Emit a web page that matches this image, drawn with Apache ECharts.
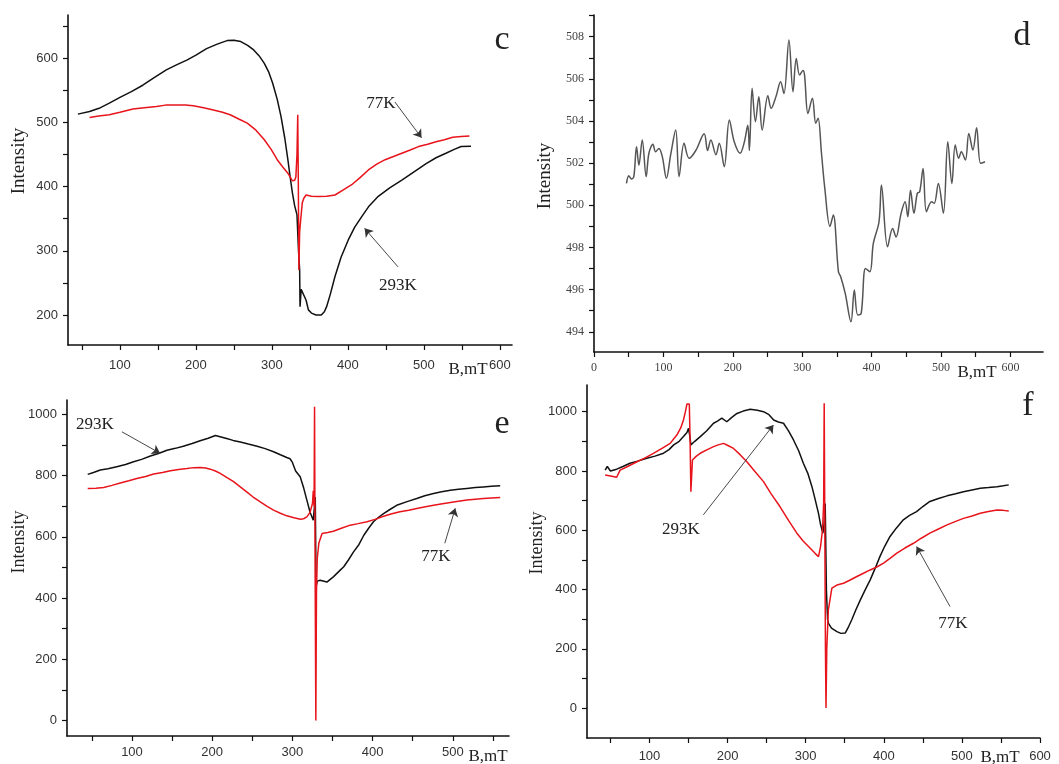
<!DOCTYPE html>
<html>
<head>
<meta charset="utf-8">
<script src="https://cdn.jsdelivr.net/npm/echarts@6/dist/echarts.min.js"></script>
<style>
html, body { margin: 0; padding: 0; background: #fff; }
#chart { width: 1059px; height: 764px; }
</style>
</head>
<body>
<div id="chart"></div>
<script>
let chartDom = document.getElementById('chart');
let myChart = echarts.init(chartDom);

// panel c
let c293K = [[44.6,513],[60,517],[72.5,522],[86,530],[100,539],[115,548],[130,558],[145,570],[161,582],[175,590],[188,597],[200,605],[214,615],[228,622],[241,627.5],[250,628],[259,626],[268,620],[276,613],[283,604],[290,592],[296,578],[301,561],[307,536],[312,509],[317,475],[321,442],[324,415],[327,390],[330,370],[333,356],[335,300],[336.5,270],[337,213],[338.5,240],[341,239],[345,223],[348,208],[352,203],[358,200],[365,200],[369,205],[372,213],[377,233],[383,260],[391,290],[400.5,317],[409,337],[418,353],[428,370],[440,385],[455,398],[471,410],[487,423],[503,436],[516,445],[529,452],[540,458],[549,462.6],[562,463]];
let c77K = [[60,507.6],[72,510],[86,512],[100,516],[117,521],[132,523],[148,525],[160,527],[174.5,527],[186,527],[196.6,526],[210,523],[223,519.5],[235,516],[245,512],[257,505],[267.5,499],[279,488],[290,473],[299,458],[307,442],[314,431],[321,421],[327,409],[330,410],[331.5,415],[333,450],[334,512],[334.8,400],[335.5,270],[336.5,330],[338,350],[340,375],[342,382],[345,387],[352,385],[361,384.5],[372,385],[383,387],[394,395],[405,403],[416,414],[427,426],[438,435],[449,442],[460,447],[471,452],[482,457],[493,462.4],[505,466],[516,470],[527,473],[538,477],[549,478],[560,479]];

// panel d
let dSignal = [[46.8,501.04],[50.2,501.4],[54,501.25],[57.4,501.36],[61.3,502.78],[64.7,501.9],[69.5,503.1],[75.2,501.36],[79.1,502.47],[84.9,502.9],[88.7,502.54],[93.6,502.7],[98.5,502.3],[104.3,501.28],[110.5,502.4],[117.7,503.57],[122.6,501.36],[129.8,502.94],[137,502.23],[146.7,502.6],[158.8,503.4],[163.6,502.6],[168.4,503.1],[175.7,502.4],[180.5,502.94],[187.7,501.83],[195,504.05],[202.2,503.0],[210.5,502.47],[216.6,503.0],[221.6,503.8],[223.9,502.6],[227.8,505.55],[232.6,503.97],[237.5,505.15],[242.3,503.57],[250.5,505.2],[255.3,504.6],[262.6,505.2],[268.8,505.86],[273.7,505.3],[280.9,507.84],[286.7,505.39],[291.5,506.97],[296.3,506.18],[301.2,506.4],[303.4,506.18],[308.3,504.36],[314.7,505.08],[319.5,503.89],[322.9,504.13],[327.8,502.47],[332.6,500.8],[340,499.0],[344.8,499.54],[352.2,496.85],[355.6,496.6],[362,495.82],[370.3,494.47],[375.1,495.98],[380,494.8],[385,494.87],[391.2,497.0],[397.6,496.85],[402.5,498.19],[410.7,499.22],[414.2,500.96],[423,498.03],[430.3,498.9],[435.2,498.5],[442.5,499.62],[448.3,500.17],[452.2,499.46],[456.1,500.72],[461,499.62],[465.9,500.57],[469.3,500.64],[474.2,501.75],[479,499.7],[486.4,500.17],[490.3,500.09],[496.2,501.04],[503.5,499.62],[509.8,503.02],[515.7,501.04],[520.5,502.86],[525.5,502.23],[529.3,502.54],[535.2,502.15],[540.1,503.41],[546,502.62],[551.3,503.68],[557.1,501.99],[563.5,502.07]];

// panel e
let e293K = [[44.8,804],[52,810],[60.5,818],[70,822],[81,829],[92,836],[102,845],[112,853],[123,864],[133,872],[143.6,883],[154,889],[164,896],[175,905],[185,914],[195,922],[204,931],[211,926],[218,921],[226,915],[235,910],[245,903],[256,896],[266,888],[276.5,878],[285,868],[293,859],[297,855],[300,843],[304,815],[309.7,796],[314,760],[318,720],[322,680],[326,654],[327.5,655],[328.5,730],[329.5,437],[331,455],[334.6,458],[343,452],[351,469],[359.6,491],[364,502],[370,525],[376,550],[383,575],[389,605],[395,628],[401,649],[407,663],[413.6,676],[422,690],[430,703],[443,715],[455,725],[465,734],[476,741.5],[486,747],[497,752],[507,755],[517.5,758],[528,761],[538,763],[548,765],[559,767]];
let e77K = [[44.8,758],[55,759],[64.7,761],[75,768],[85.5,776],[96,783],[106,790.6],[117,797],[127,805],[138,810],[148,816],[158,820],[168.5,823],[177,826],[185,826.6],[192,825],[197.6,821],[204,815],[210,807],[218,794],[226.7,780],[235,763],[243,747],[251,730],[260,714],[268,700],[276.5,687],[285,677],[293,668.5],[302,662],[310,657.6],[314,659],[318,665],[322,680],[325,709],[326,750],[327,700],[327.6,1025],[328.3,500],[329.2,0],[330,420],[331,530],[333,580],[337,611],[344,614],[351,618],[361,628],[372,638],[382,643],[393,649],[403,657],[413.6,667],[424,675],[434,681.6],[445,687],[455,692.5],[466,698],[476,703],[487,708],[497,712],[507,716],[517.5,720],[528,723],[538,725],[548,727],[559,728.5]];

// panel f
let f293K = [[43.2,803],[46,815],[50,800],[58,806],[66,815],[75,826],[86,834],[96.6,843],[107,850],[118,860],[125,872],[131,888],[138,900],[143.5,916],[148,930],[150,944],[151.5,920],[153,888],[158,900],[165,916],[173,935],[182,961],[187,968],[192.6,978],[199,966],[205,980],[212,994],[220,1002],[229,1008],[238,1005],[246,1000],[253,990],[259,972],[265,965],[271.6,961],[278,935],[284.4,904.5],[291,868],[297,826],[303,790],[308,747],[312,705],[316.4,657],[319,620],[322,590],[323.5,620],[325,690],[326.5,400],[328,300],[329,286.5],[333,270],[340,258],[345,252],[350.6,253],[355,275],[359,298],[364,330],[370,365],[376,398],[382.6,432.6],[389,472],[395,511],[401,545],[408,579],[416,607],[425,635],[433,650],[442,663],[450,680],[459,697],[470,707],[481,716],[492,723],[502,730],[513,736],[523.5,741.6],[534,744],[545,747],[553,750],[560,753]];
let f77K = [[43.2,786.5],[50,783],[58,778.7],[62.4,803],[72,815],[84,831],[95,845],[105,859.6],[116,876],[126.5,893],[135,921],[140,945],[143.5,972],[146,1000],[148,1026],[151,1026],[152,900],[153,730],[155,837],[160,850],[165,859.6],[174,872],[182,882],[188,888],[194.8,893],[201,885],[207.6,876],[216,855],[224.7,831],[235,798],[246,764],[256,722],[267,680],[278,633],[288.7,590],[297,563],[305.8,539],[312,522],[316.4,511],[319,545],[321.5,600],[323,691],[323.7,1028],[324.5,600],[325.3,200],[326,0],[327,200],[329,331],[333.5,404.5],[340,415],[348.5,421],[357,432],[365.5,444],[374,455],[382.6,466],[391,476],[399.7,489],[408,505],[416.7,522.5],[427,540],[438,556],[448,573],[459,590],[470,604],[481,618],[492,630],[502,640],[513,648],[523.5,657],[534,663],[545,668.5],[553,667],[560,665]];

// tick values
let cXLabels = [100,200,300,400,500,600];
let cXTicks = [50,100,150,200,250,300,350,400,450,500,550,600];
let cYLabels = [200,300,400,500,600];
let cYTicks = [200,250,300,350,400,450,500,550,600,650];
let dXLabels = [0,100,200,300,400,500,600];
let dXTicks = [0,50,100,150,200,250,300,350,400,450,500,550,600];
let dYLabels = [494,496,498,500,502,504,506,508];
let dYTicks = [494,495,496,497,498,499,500,501,502,503,504,505,506,507,508,509];
let eXLabels = [100,200,300,400,500];
let eXTicks = [50,100,150,200,250,300,350,400,450,500,550];
let eYLabels = [0,200,400,600,800,1000];
let eYTicks = [0,100,200,300,400,500,600,700,800,900,1000];
let fXLabels = [100,200,300,400,500,600];
let fXTicks = [50,100,150,200,250,300,350,400,450,500,550,600];
let fYLabels = [0,200,400,600,800,1000];
let fYTicks = [0,100,200,300,400,500,600,700,800,900,1000];

// annotation arrows (data coords)
let cArrow77 = [[461.8,532],[497,476]];
let cArrow293 = [[466,275],[422,335]];
let eArrow293 = [[87.5,943],[135,873]];
let eArrow77 = [[490,579],[503,693]];
let fArrow293 = [[169,652],[258.7,955]];
let fArrow77 = [[484.8,342.5],[442,545]];

const SANS = 'Liberation Sans';
const SERIF = 'Liberation Serif';

function plain(v) {
    return String(v);
}

function xAxisOf(idx, min, max, ticks, labels, font, size, color, margin) {
    return {
        gridIndex: idx, type: 'value', min: min, max: max,
        axisLine: { onZero: false, lineStyle: { color: '#111', width: 1.6 } },
        axisTick: { customValues: ticks, length: 5, lineStyle: { color: '#111', width: 1.2 } },
        axisLabel: { customValues: labels, formatter: plain, margin: margin, fontFamily: font, fontSize: size, color: color },
        splitLine: { show: false }
    };
}

function yAxisOf(idx, min, max, ticks, labels, font, size, color) {
    return {
        gridIndex: idx, type: 'value', min: min, max: max,
        axisLine: { show: true, onZero: false, lineStyle: { color: '#111', width: 1.6 } },
        axisTick: { show: true, customValues: ticks, length: 5, lineStyle: { color: '#111', width: 1.2 } },
        axisLabel: { customValues: labels, formatter: plain, margin: 10, fontFamily: font, fontSize: size, color: color },
        splitLine: { show: false }
    };
}

function arrowLine(pts) {
    return {
        silent: true,
        symbol: ['none', 'arrow'],
        symbolSize: 8,
        label: { show: false },
        lineStyle: { color: '#333', width: 0.9, type: 'solid' },
        data: [[{ coord: pts[0] }, { coord: pts[1] }]]
    };
}

function lineSeries(name, data, idx, color, extra) {
    return Object.assign({
        name: name, type: 'line', data: data,
        xAxisIndex: idx, yAxisIndex: idx,
        showSymbol: false, symbol: 'none', silent: true,
        lineStyle: { color: color, width: 1.5 },
        emphasis: { disabled: true }
    }, extra || {});
}

function txt(text, x, y, size, rotate) {
    return {
        type: 'text', x: x, y: y, rotation: rotate ? Math.PI / 2 : 0,
        style: { text: text, font: size + 'px "' + SERIF + '"', fill: '#222', align: 'center', verticalAlign: 'middle' }
    };
}

const RED = '#e8141b';
const BLACK = '#111';

let option = {
    animation: false,
    backgroundColor: '#fff',
    grid: [
        { left: 68, top: 15, width: 444, height: 330 },
        { left: 594, top: 15, width: 449, height: 337 },
        { left: 67, top: 400, width: 442, height: 336 },
        { left: 587, top: 385, width: 453, height: 353 }
    ],
    xAxis: [
        xAxisOf(0, 31.6, 616, cXTicks, cXLabels, SANS, 13, '#333', 14),
        xAxisOf(1, 0, 647, dXTicks, dXLabels, SERIF, 12, '#444', 10),
        xAxisOf(2, 19, 570, eXTicks, eXLabels, SANS, 13, '#333', 10),
        xAxisOf(3, 20, 600, fXTicks, fXLabels, SANS, 13, '#333', 12)
    ],
    yAxis: [
        yAxisOf(0, 153.3, 667.4, cYTicks, cYLabels, SANS, 13, '#333'),
        yAxisOf(1, 493.04, 509.03, dYTicks, dYLabels, SERIF, 12, '#444'),
        yAxisOf(2, -51, 1047, eYTicks, eYLabels, SANS, 13, '#333'),
        yAxisOf(3, -101, 1090, fYTicks, fYLabels, SANS, 13, '#333')
    ],
    series: [
        lineSeries('c 293K', c293K, 0, BLACK, { markLine: arrowLine(cArrow293) }),
        lineSeries('c 77K', c77K, 0, RED, { markLine: arrowLine(cArrow77) }),
        lineSeries('d', dSignal, 1, '#555', { smooth: 0.35 }),
        lineSeries('e 293K', e293K, 2, BLACK, { markLine: arrowLine(eArrow293) }),
        lineSeries('e 77K', e77K, 2, RED, { markLine: arrowLine(eArrow77) }),
        lineSeries('f 293K', f293K, 3, BLACK, { markLine: arrowLine(fArrow293) }),
        lineSeries('f 77K', f77K, 3, RED, { markLine: arrowLine(fArrow77) })
    ],
    graphic: [
        txt('c', 502, 40, 34),
        txt('d', 1022, 36, 34),
        txt('e', 502, 424, 34),
        txt('f', 1028, 406, 34),
        txt('Intensity', 19, 161, 19, true),
        txt('Intensity', 545, 176, 19, true),
        txt('Intensity', 19, 542, 18, true),
        txt('Intensity', 537, 543, 18, true),
        txt('77K', 381, 104, 17),
        txt('293K', 398, 286, 17),
        txt('293K', 95, 425, 17),
        txt('77K', 436, 557, 17),
        txt('293K', 681, 530, 17),
        txt('77K', 953, 624, 17),
        txt('B,mT', 468, 370, 17),
        txt('B,mT', 977, 373, 17),
        txt('B,mT', 488, 757, 17),
        txt('B,mT', 1000, 758, 17)
    ]
};

option && myChart.setOption(option);
</script>
</body>
</html>
